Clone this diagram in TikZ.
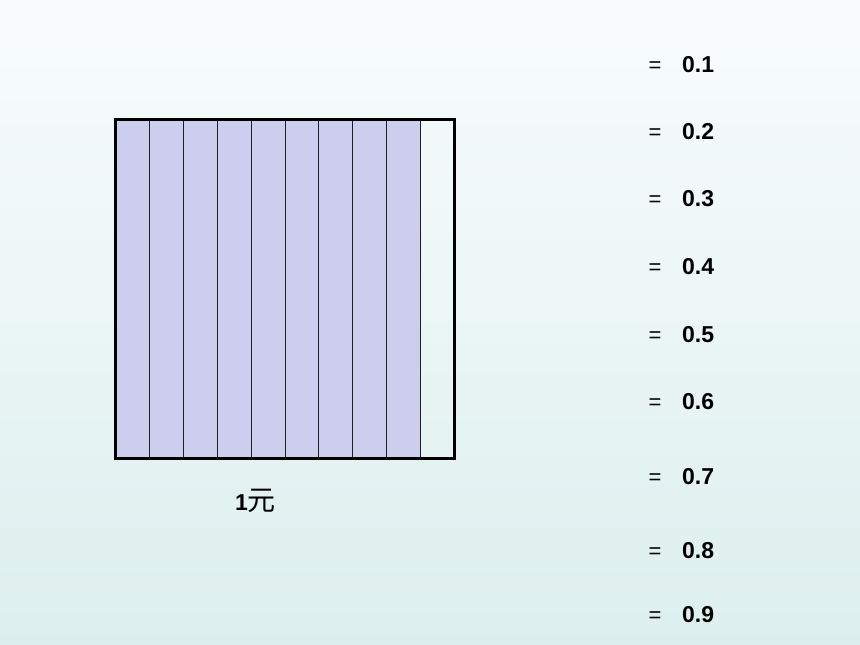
\documentclass[tikz,border=0pt]{standalone}
\usepackage{fontspec}
\setmainfont{Liberation Sans}
\newfontfamily\cjk{Noto Sans CJK SC}
\usepackage{tikz}
\usetikzlibrary{positioning,calc}
\definecolor{bgtop}{RGB}{249, 252, 252}
\definecolor{bgbottom}{RGB}{220, 239, 238}
\definecolor{stripfill}{RGB}{205, 206, 238}
\definecolor{stripline}{RGB}{30, 30, 40}

\begin{document}
\begin{tikzpicture}[x=1pt, y=-1pt,
    strip/.style={rectangle, draw=stripline, line width=1.1pt, fill=stripfill,
                  minimum width=33.8pt, minimum height=338pt, inner sep=0pt,
                  anchor=north west},
    emptystrip/.style={strip, fill=none},
    eqsign/.style={anchor=base, inner sep=0pt, font=\fontsize{22}{26}\selectfont},
    value/.style={anchor=base west, inner sep=0pt,
                  font=\fontsize{23}{27}\selectfont\bfseries},
    caption/.style={anchor=base west, inner sep=0pt}
]
% background
\shade[top color=bgtop, bottom color=bgbottom] (0,0) rectangle (860,645);
\useasboundingbox (0,0) rectangle (860,645);

% the square of ten strips
\foreach \i in {0,...,8}
  \node[strip] (strip\i) at (115.5+33.8*\i, 119.5) {};
\node[emptystrip] (strip9) at (419.7, 119.5) {};
\draw[line width=3pt] (strip0.north west) rectangle (strip9.south east);

\node[caption] (yuan) at (235, 510)
  {\fontsize{23}{27}\selectfont\bfseries 1\mdseries\cjk\fontsize{28}{32}\selectfont 元};

% decimal values
\foreach \v/\y in {1/72, 2/139, 3/206, 4/274, 5/342, 6/409, 7/484, 8/558, 9/622} {
  \node[eqsign] (eq\v) at (655, \y) {=};
  \node[value] (val\v) at (682, \y) {0.\v};
}
\end{tikzpicture}
\end{document}
